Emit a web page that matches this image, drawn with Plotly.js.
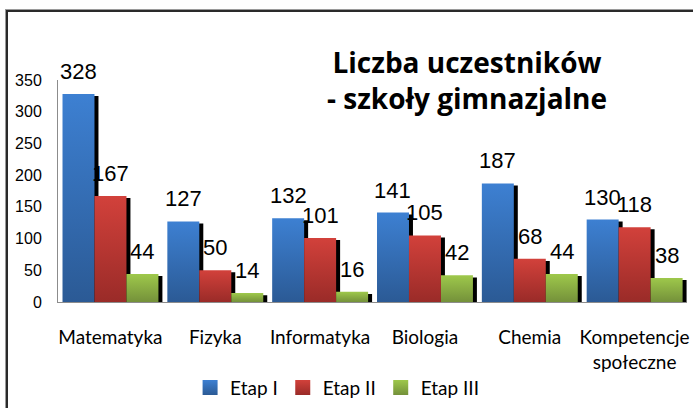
<!DOCTYPE html>
<html>
<head>
<meta charset="utf-8">
<script src="https://cdn.plot.ly/plotly-3.0.1.min.js"></script>
<style>
  html, body { margin: 0; padding: 0; background: #fff; }
  #wrap { position: relative; width: 693px; height: 408px; overflow: hidden; background: #fff; }
  #frame { position: absolute; left: 6px; top: 10px; width: 760px; height: 460px;
           border-left: 2px solid #2a2a2a; border-top: 2px solid #2a2a2a;
           box-shadow: -1px -1px 0 #9a9a9a; }
  #chart { position: absolute; left: 0; top: 0; width: 693px; height: 408px; }
</style>
</head>
<body>
<div id="wrap">
  <div id="frame"></div>
  <div id="chart"></div>
</div>
<script>
// ---- data ----
const categories = ['Matematyka', 'Fizyka', 'Informatyka', 'Biologia', 'Chemia', 'Kompetencje<br>społeczne'];
const etap1 = [328, 127, 132, 141, 187, 130];
const etap2 = [167, 50, 101, 105, 68, 118];
const etap3 = [44, 14, 16, 42, 44, 38];
const seriesNames = ['Etap I', 'Etap II', 'Etap III'];
const yTicks = [0, 50, 100, 150, 200, 250, 300, 350];

// ---- style ----
const series = [etap1, etap2, etap3];
const baseColors = ['#3a7bcb', '#c93b36', '#93bd45'];
const gradStops = [
  ['#3d80d2', '#2b5a95'],
  ['#d2413b', '#9a2b28'],
  ['#9ec84b', '#74913a']
];
const W = 0.305;
const offsets = [-0.457, -0.152, 0.153];
const shadowDx = 0.038;
const shadowDy = -3.2;
const idx = categories.map((_, i) => i);

const traces = [];
// shadows first (drawn underneath)
series.forEach((vals, s) => {
  traces.push({
    type: 'bar', x: idx, y: vals, base: shadowDy,
    width: W, offset: offsets[s] + shadowDx,
    marker: { color: '#000000', line: { width: 0 } },
    showlegend: false, hoverinfo: 'skip'
  });
});
series.forEach((vals, s) => {
  traces.push({
    type: 'bar', x: idx, y: vals, name: seriesNames[s],
    width: W, offset: offsets[s],
    marker: { color: baseColors[s], line: { width: 0 } }
  });
});

const annotations = [];
series.forEach((vals, s) => {
  vals.forEach((v, i) => {
    annotations.push({
      x: i + offsets[s] + W / 2, y: v, xref: 'x', yref: 'y',
      text: String(v), showarrow: false, yanchor: 'bottom', xanchor: 'center',
      yshift: 8,
      font: { family: 'Liberation Sans, Arial, sans-serif', size: 22, color: '#000' }
    });
  });
});

const layout = {
  width: 693, height: 408,
  paper_bgcolor: 'rgba(0,0,0,0)', plot_bgcolor: 'rgba(0,0,0,0)',
  margin: { l: 58, r: 6, t: 80, b: 106, autoexpand: false },
  barmode: 'overlay',
  showlegend: true,
  title: {
    text: '<b>Liczba uczestników<br>- szkoły gimnazjalne</b>',
    font: { family: 'Open Sans, sans-serif', size: 28, color: '#000' },
    xref: 'container', yref: 'container',
    x: 467 / 693, xanchor: 'center',
    y: 1 - 73 / 408, yanchor: 'top'
  },
  xaxis: {
    type: 'linear', range: [-0.5, 5.5],
    tickmode: 'array', tickvals: idx, ticktext: categories,
    showgrid: false, zeroline: false,
    showline: true, linecolor: '#8c8c8c', linewidth: 1,
    ticks: '', ticklabelstandoff: 18,
    tickfont: { family: 'Lato, Carlito, Calibri, sans-serif', size: 19, color: '#000' },
    fixedrange: true
  },
  yaxis: {
    range: [0, 350],
    tickmode: 'array', tickvals: yTicks, ticktext: yTicks.map(String),
    showgrid: false, zeroline: false,
    showline: true, linecolor: '#8c8c8c', linewidth: 1,
    ticks: '', ticklabelstandoff: 12,
    tickfont: { family: 'Liberation Sans, Arial, sans-serif', size: 16, color: '#000' },
    fixedrange: true
  },
  legend: {
    orientation: 'h', x: 0.21, xanchor: 'left', y: -0.3, yanchor: 'top',
    font: { family: 'Lato, Carlito, Calibri, sans-serif', size: 19, color: '#000' },
    bgcolor: 'rgba(0,0,0,0)', itemclick: false, itemdoubleclick: false
  },
  annotations: annotations
};

const gd = document.getElementById('chart');
Plotly.newPlot(gd, traces, layout, { displayModeBar: false, staticPlot: true }).then(() => {
  const svg = gd.querySelector('svg.main-svg');
  const NS = 'http://www.w3.org/2000/svg';
  let defs = svg.querySelector('defs');
  if (!defs) { defs = document.createElementNS(NS, 'defs'); svg.insertBefore(defs, svg.firstChild); }
  gradStops.forEach((st, s) => {
    const g = document.createElementNS(NS, 'linearGradient');
    g.setAttribute('id', 'barGrad' + s);
    g.setAttribute('x1', '0'); g.setAttribute('y1', '0');
    g.setAttribute('x2', '0'); g.setAttribute('y2', '1');
    [[0, st[0]], [1, st[1]]].forEach(([o, c]) => {
      const stop = document.createElementNS(NS, 'stop');
      stop.setAttribute('offset', String(o));
      stop.setAttribute('stop-color', c);
      g.appendChild(stop);
    });
    defs.appendChild(g);
  });
  const barTraces = gd.querySelectorAll('.barlayer .trace');
  barTraces.forEach((t, i) => {
    if (i >= 3) {
      t.querySelectorAll('path').forEach(p => { p.style.fill = 'url(#barGrad' + (i - 3) + ')'; });
    }
  });
  gd.querySelectorAll('.legend .traces').forEach((t, i) => {
    t.querySelectorAll('.legendpoints path').forEach(p => {
      p.style.fill = 'url(#barGrad' + i + ')';
      p.setAttribute('d', 'M7.5,7.5H-7.5V-7.5H7.5Z');
    });
  });
});
</script>
</body>
</html>
